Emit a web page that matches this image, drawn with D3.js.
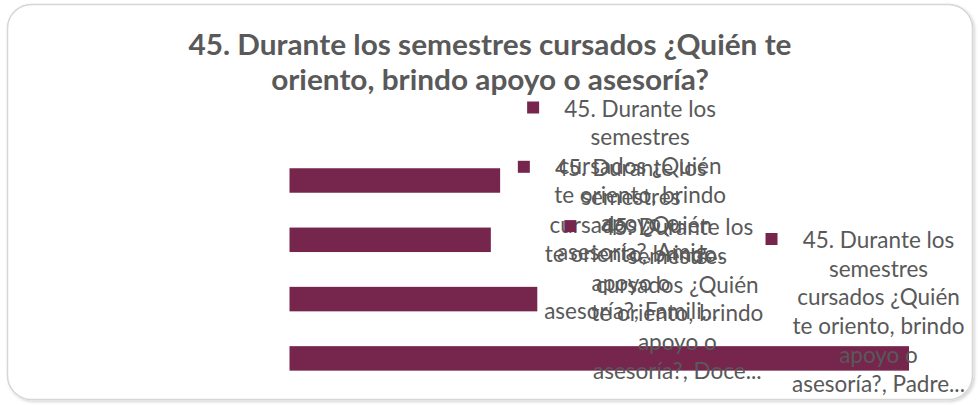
<!DOCTYPE html>
<html>
<head>
<meta charset="utf-8">
<script src="https://cdn.jsdelivr.net/npm/d3@7"></script>
<style>
  body { margin: 0; background: #fff; }
  svg { display: block; }
</style>
</head>
<body>
<script>
// Chart data
const titleLines = ["45. Durante los semestres cursados ¿Quién te", "oriento, brindo apoyo o asesoría?"];
const seriesName = "45. Durante los semestres cursados ¿Quién te oriento, brindo apoyo o asesoría?";
const categories = ["Amigos", "Familiares", "Docentes", "Padres"];
const values = [34, 32.5, 40, 100];

const W = 978, H = 405;
const barColor = "#76264D";
const textColor = "#595959";
const labelFont = "Lato, 'Noto Sans', sans-serif";

const svg = d3.select("body").append("svg").attr("width", W).attr("height", H);

// soft shadow for the chart frame
const defs = svg.append("defs");
const f = defs.append("filter").attr("id", "frameShadow")
  .attr("x", "-5%").attr("y", "-5%").attr("width", "110%").attr("height", "110%");
f.append("feDropShadow").attr("dx", 1.5).attr("dy", 1.5).attr("stdDeviation", 1.5)
  .attr("flood-color", "#000").attr("flood-opacity", 0.18);

svg.append("rect")
  .attr("x", 7.5).attr("y", 4.5).attr("width", 965).attr("height", 395)
  .attr("rx", 24).attr("ry", 24)
  .attr("fill", "#fff").attr("stroke", "#d6d6d6").attr("stroke-width", 1.5)
  .attr("filter", "url(#frameShadow)");

// helper: measure text width for a given font setup
const meas = svg.append("text").attr("x", -1000).attr("y", -1000);
function rawWidth(str, size, weight) {
  meas.attr("font-family", labelFont).attr("font-size", size).attr("font-weight", weight || "normal").text(str);
  return meas.node().getComputedTextLength();
}
// horizontal condensing so the humanist face sets at a narrow width
const labelSize = 24;
const kLabel = 172 / rawWidth("te oriento, brindo", labelSize);
const titleSize = 28;
const kTitle = 603 / rawWidth(titleLines[0], titleSize, "bold");
const lw = s => rawWidth(s, labelSize) * kLabel;

function condense(sel, k) {
  sel.each(function () {
    const w = this.getComputedTextLength();
    d3.select(this).attr("textLength", w * k).attr("lengthAdjust", "spacingAndGlyphs");
  });
}

// Title
const title = svg.append("g");
title.selectAll("text").data(titleLines).join("text")
  .attr("x", 490)
  .attr("y", (d, i) => 55 + i * 35)
  .attr("text-anchor", "middle")
  .attr("font-family", labelFont)
  .attr("font-size", titleSize)
  .attr("font-weight", "bold")
  .attr("fill", textColor)
  .text(d => d)
  .call(condense, kTitle);

// Scales
const x = d3.scaleLinear().domain([0, 100]).range([289.5, 909]);
const y = d3.scaleBand().domain(categories).range([150.85, 388.05])
  .paddingInner(0.587).paddingOuter(0.2935);

// Bars
svg.append("g").selectAll("rect").data(categories).join("rect")
  .attr("x", x(0))
  .attr("y", d => y(d))
  .attr("width", (d, i) => x(values[i]) - x(0))
  .attr("height", y.bandwidth())
  .attr("fill", barColor);

// Data labels: legend key + series name + category, wrapped into at most 6 lines;
// the final line is clipped with an ellipsis when it runs into the box edge
const maxLineW = 178, lastFreeW = 165, maxLines = 6, lineH = 28.7;
function wrapLabel(str) {
  const words = str.split(" ");
  const lines = [];
  let cur = "";
  words.forEach(wd => {
    const t = cur ? cur + " " + wd : wd;
    if (cur && lw(t) > maxLineW) { lines.push(cur); cur = wd; }
    else cur = t;
  });
  if (cur) lines.push(cur);
  if (lines.length >= maxLines) {
    let last = lines.slice(maxLines - 1).join(" ");
    if (lines.length > maxLines || lw(last) > lastFreeW) {
      while (last.length && lw(last + "...") > maxLineW) last = last.slice(0, -1);
      last += "...";
    }
    lines.length = maxLines - 1;
    lines.push(last);
  }
  return lines;
}

const labels = svg.append("g");
categories.forEach((c, i) => {
  const lines = wrapLabel(seriesName + ", " + c);
  const widest = d3.max(lines, lw);
  const keyLeft = Math.min(x(values[i]) + 27, 965 - 113 - widest / 2);
  const cy = y(c) + y.bandwidth() / 2;
  let first = cy - 64;
  const lastLimit = 391.5;
  if (first + (lines.length - 1) * lineH > lastLimit) first = lastLimit - (lines.length - 1) * lineH;

  const g = labels.append("g");
  g.append("rect")
    .attr("x", keyLeft).attr("y", first - 15)
    .attr("width", 12).attr("height", 12)
    .attr("fill", barColor);
  g.selectAll("text").data(lines).join("text")
    .attr("x", keyLeft + 113)
    .attr("y", (d, j) => first + j * lineH)
    .attr("text-anchor", "middle")
    .attr("font-family", labelFont)
    .attr("font-size", labelSize)
    .attr("fill", textColor)
    .text(d => d)
    .call(condense, kLabel);
});
meas.remove();
</script>
</body>
</html>
